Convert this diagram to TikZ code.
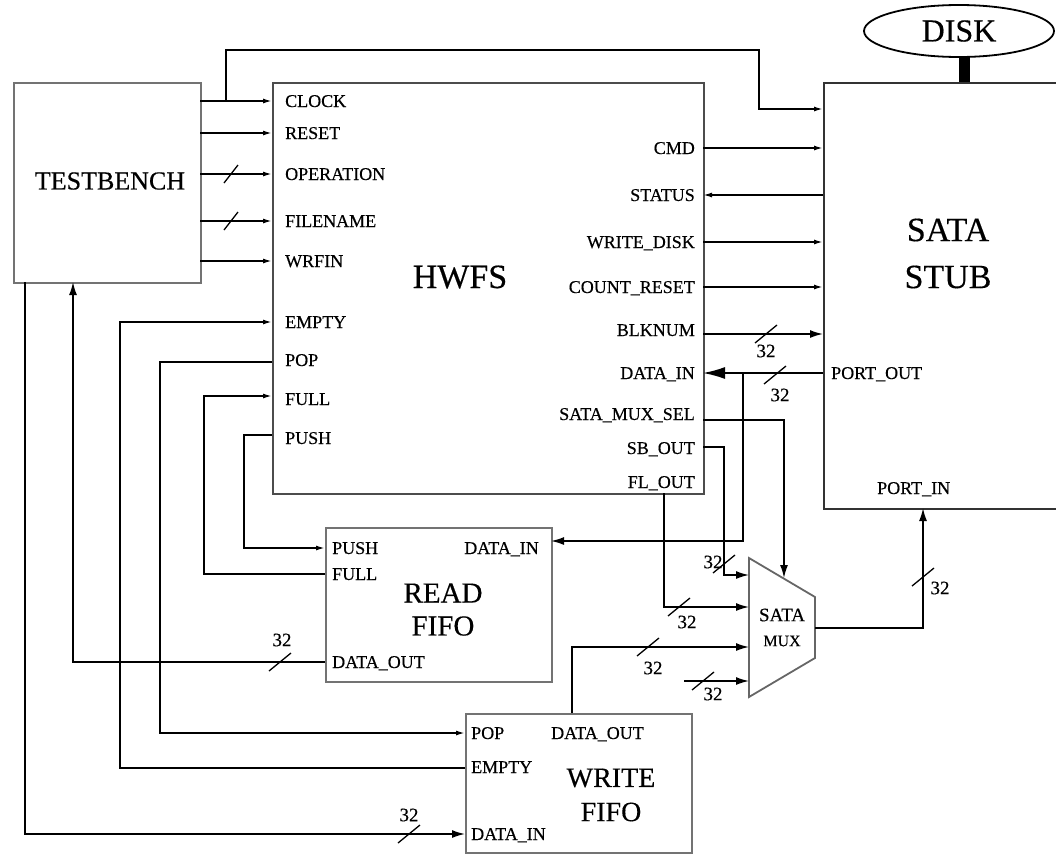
\documentclass[tikz,border=0pt]{standalone}
\usepackage{fontspec}
\setmainfont{Liberation Serif}[FakeBold=0.4]
\usetikzlibrary{arrows.meta,shapes.geometric}
\newcommand\busmark[2]{\draw[mark line] (#1,#2) ++(-11,9) -- ++(22,-18);}
\newcommand\busmarkS[2]{\draw[mark line] (#1,#2) ++(-7,9) -- ++(14,-18);}
\begin{document}
\begin{tikzpicture}[x=1pt,y=-1pt,
  box/.style={draw=black!55,line width=2pt,rectangle,anchor=north west,inner sep=0pt},
  wire/.style={draw=black,line width=1.6pt},
  mark line/.style={draw=black,line width=1.3pt},
  sa/.style={wire,-{Latex[length=9pt,width=5pt]}},
  ba/.style={wire,-{Latex[length=13pt,width=8pt]}},
  hugea/.style={wire,-{Latex[length=22pt,width=12pt]}},
  lbl/.style={font=\fontsize{18}{18}\selectfont,inner sep=0pt,text height=12pt,text depth=0pt},
  num/.style={font=\fontsize{19}{19}\selectfont,inner sep=0pt},
  mlbl/.style={font=\fontsize{16}{16}\selectfont,inner sep=0pt}]
\useasboundingbox (0,0) rectangle (1056,854);

% ---------- blocks ----------
\node[box,minimum width=187pt,minimum height=200pt] (tb) at (13,82) {};
\node[box,draw=black!70,minimum width=431pt,minimum height=411pt] (hw) at (272,82) {};
\node[box,draw=black!80,minimum width=260pt,minimum height=426pt] (sata) at (823,82) {};
\node[box,minimum width=226pt,minimum height=154pt] (rf) at (325,527) {};
\node[box,minimum width=226pt,minimum height=139pt] (wf) at (465,713) {};
\node[draw=black,line width=1.8pt,ellipse,minimum width=190pt,minimum height=52pt,inner sep=0pt,
      font=\fontsize{32}{32}\selectfont] (disk) at (959,31) {DISK};
\draw[line width=11pt] (964,57) coordinate (diskb) -- (diskb |- sata.north);

% mux
\coordinate (mux1) at (749,558);
\coordinate (mux2) at (815,597);
\coordinate (mux3) at (815,658);
\coordinate (mux4) at (749,697);
\draw[draw=black!60,line width=1.8pt] (mux1) -- (mux2) -- (mux3) -- (mux4) -- cycle;
\node[mlbl,font=\fontsize{19}{19}\selectfont] (muxt1) at (782,615) {SATA};
\node[mlbl] (muxt2) at (782,641) {MUX};

% big labels
\node[font=\fontsize{26}{26}\selectfont,inner sep=0pt] (tbl) at (110,181) {TESTBENCH};
\node[font=\fontsize{34}{34}\selectfont,inner sep=0pt] (hwl) at (460,277) {HWFS};
\node[font=\fontsize{34}{34}\selectfont,inner sep=0pt] (satal1) at (948,230) {SATA};
\node[font=\fontsize{34}{34}\selectfont,inner sep=0pt] (satal2) at (948,277) {STUB};
\node[font=\fontsize{29}{29}\selectfont,inner sep=0pt] (rfl1) at (443,593) {READ};
\node[font=\fontsize{29}{29}\selectfont,inner sep=0pt] (rfl2) at (443,626) {FIFO};
\node[font=\fontsize{28}{28}\selectfont,inner sep=0pt] (wfl1) at (611,778) {WRITE};
\node[font=\fontsize{28}{28}\selectfont,inner sep=0pt] (wfl2) at (611,812) {FIFO};

% HWFS port labels
\foreach \t/\y [count=\i] in {CLOCK/101,RESET/133,OPERATION/174,FILENAME/221,WRFIN/261,EMPTY/322,POP/360,FULL/399,PUSH/438}
  \node[lbl,anchor=west] (hwL\i) at (285,\y) {\t};
\foreach \t/\y [count=\i] in {CMD/148,STATUS/195,WRITE\_DISK/242,COUNT\_RESET/287,BLKNUM/330,DATA\_IN/373,SATA\_MUX\_SEL/414,SB\_OUT/448,FL\_OUT/482}
  \node[lbl,anchor=east] (hwR\i) at (695,\y) {\t};
\node[lbl,anchor=west] (po) at (831,373) {PORT\_OUT};
\node[lbl,anchor=west] (pi) at (877,488) {PORT\_IN};
\node[lbl,anchor=west] (rfa) at (332,548) {PUSH};
\node[lbl,anchor=west] (rfb) at (332,574) {FULL};
\node[lbl,anchor=east] (rfc) at (539,548) {DATA\_IN};
\node[lbl,anchor=west] (rfd) at (332,662) {DATA\_OUT};
\node[lbl,anchor=west] (wfa) at (471,733) {POP};
\node[lbl,anchor=west] (wfb) at (471,767) {EMPTY};
\node[lbl,anchor=west] (wfc) at (551,733) {DATA\_OUT};
\node[lbl,anchor=west] (wfd) at (471,834) {DATA\_IN};

% ---------- port coordinates ----------
\coordinate (tbClk) at (200,101);  \coordinate (hwClk) at (272,101);
\coordinate (tbRst) at (200,133);  \coordinate (hwRst) at (272,133);
\coordinate (tbOp)  at (200,174);  \coordinate (hwOp)  at (272,174);
\coordinate (tbFn)  at (200,221);  \coordinate (hwFn)  at (272,221);
\coordinate (tbWr)  at (200,261);  \coordinate (hwWr)  at (272,261);
\coordinate (hwEmpty) at (272,322);
\coordinate (hwPop)   at (272,362);
\coordinate (hwFull)  at (272,396);
\coordinate (hwPush)  at (272,435);
\coordinate (hwCmd) at (703,148); \coordinate (saCmd) at (823,148);
\coordinate (hwSt)  at (703,195); \coordinate (saSt)  at (823,195);
\coordinate (hwWd)  at (703,242); \coordinate (saWd)  at (823,242);
\coordinate (hwCr)  at (703,287); \coordinate (saCr)  at (823,287);
\coordinate (hwBn)  at (703,334); \coordinate (saBn)  at (823,334);
\coordinate (hwDi)  at (703,373); \coordinate (saPo)  at (823,373);
\coordinate (hwSel) at (703,420);
\coordinate (hwSb)  at (703,447);
\coordinate (hwFl)  at (664,493);
\coordinate (rfPush) at (325,548);
\coordinate (rfFull) at (325,574);
\coordinate (rfDi)   at (551,541);
\coordinate (rfDo)   at (325,662);
\coordinate (wfPop)   at (465,733);
\coordinate (wfEmpty) at (465,768);
\coordinate (wfDi)    at (465,834);
\coordinate (wfDo)    at (572,713);
\coordinate (muxA) at (749,575);
\coordinate (muxB) at (749,607);
\coordinate (muxC) at (749,647);
\coordinate (muxD) at (749,681);
\coordinate (muxS) at (784,578);
\coordinate (muxO) at (815,628);
\coordinate (stubIn) at (684,681);
\coordinate (saPi) at (923,508);
\coordinate (tbB1) at (25,282);
\coordinate (tbB2) at (73,282);
\coordinate (saTop) at (823,109);

% ---------- connectors ----------
\draw[sa] (tbClk) -- (hwClk);
\draw[sa] (226,101) -- (226,50) -- (759,50) -- (759,109) -- (saTop);
\draw[sa] (tbRst) -- (hwRst);
\draw[sa] (tbOp) -- (hwOp);   \busmarkS{231}{174}
\draw[sa] (tbFn) -- (hwFn);   \busmarkS{231}{221}
\draw[sa] (tbWr) -- (hwWr);

\draw[sa] (wfEmpty) -- (120,768) -- (120,322) -- (hwEmpty);
\draw[sa] (hwPop) -- (160,362) -- (160,733) -- (wfPop);
\draw[sa] (rfFull) -- (204,574) -- (204,396) -- (hwFull);
\draw[sa] (hwPush) -- (244,435) -- (244,548) -- (rfPush);

\draw[sa] (hwCmd) -- (saCmd);
\draw[sa] (saSt) -- (hwSt);
\draw[sa] (hwWd) -- (saWd);
\draw[sa] (hwCr) -- (saCr);
\draw[ba] (hwBn) -- (saBn);  \busmark{766}{334}
\node[num] (n1) at (766,351) {32};
\draw[hugea] (saPo) -- (hwDi); \busmark{775}{375}
\node[num] (n2) at (780,395) {32};
\draw[ba] (743,373) -- (743,541) -- (rfDi);

\draw[ba] (hwSel) -- (784,420) -- (muxS);
\draw[ba] (hwSb) -- (724,447) -- (724,575) -- (muxA);
\busmark{724}{564}
\node[num] (n3) at (713,562) {32};
\draw[ba] (hwFl) -- (664,607) -- (muxB);
\busmark{679}{607}
\node[num] (n4) at (687,622) {32};
\draw[ba] (wfDo) -- (572,647) -- (muxC);
\busmark{648}{647}
\node[num] (n5) at (653,668) {32};
\draw[ba] (stubIn) -- (muxD);
\busmark{703}{681}
\node[num] (n6) at (713,694) {32};
\draw[ba] (muxO) -- (923,628) -- (saPi);
\busmark{923}{577}
\node[num] (n7) at (940,588) {32};

\draw[ba] (rfDo) -- (73,662) -- (tbB2);
\busmark{280}{662}
\node[num] (n8) at (282,640) {32};
\draw[ba] (tbB1) -- (25,834) -- (wfDi);
\busmark{409}{834}
\node[num] (n9) at (409,815) {32};
\end{tikzpicture}
\end{document}
